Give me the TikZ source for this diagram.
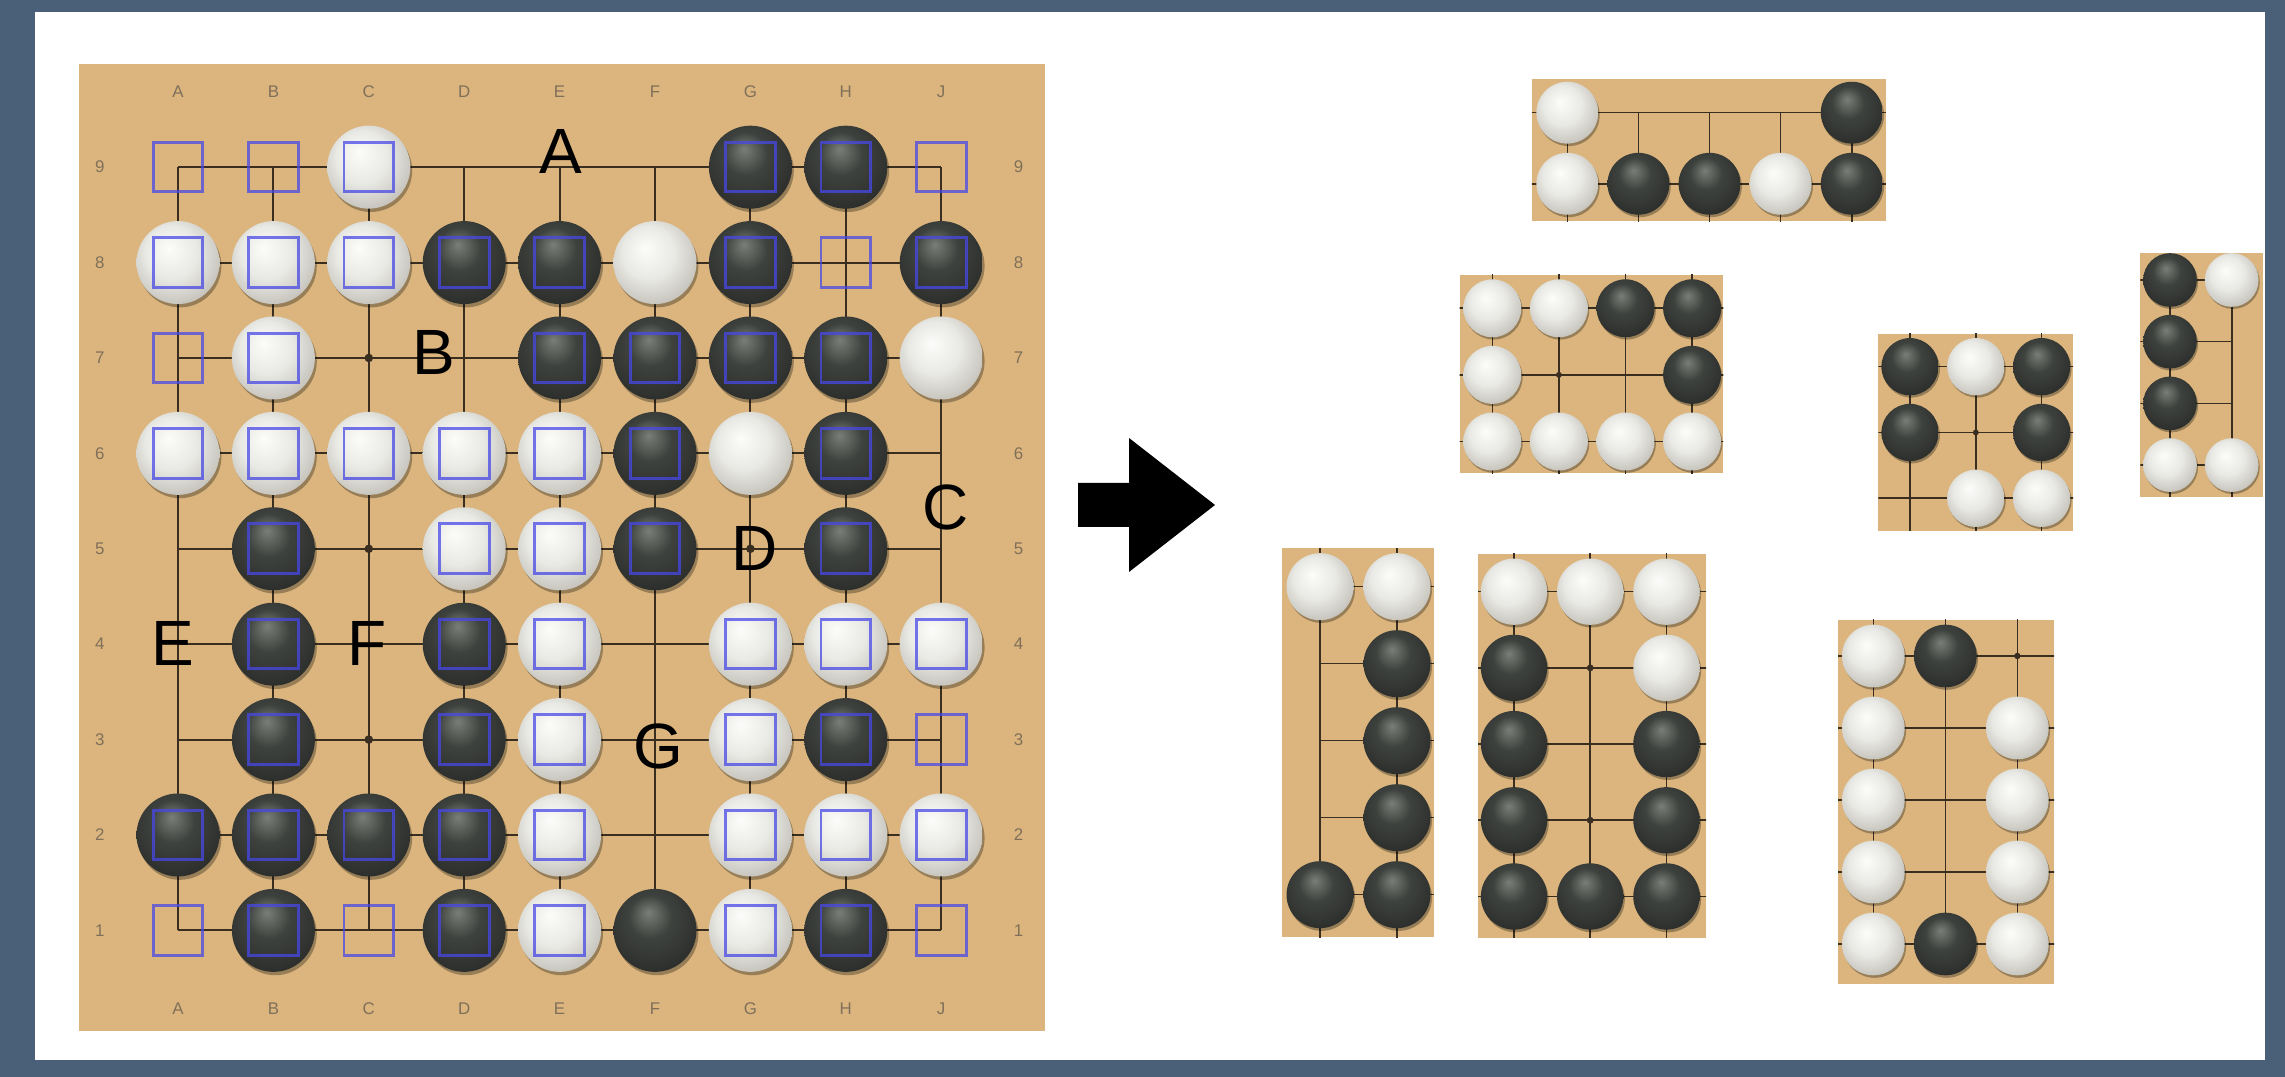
\documentclass[tikz,border=0pt]{standalone}
\usepackage{xcolor}
\usepackage{fontspec}
\setmainfont{Liberation Sans}
\usepackage{tikz}
\usetikzlibrary{positioning}

\definecolor{slate}{RGB}{74,96,121}
\definecolor{wood}{RGB}{219,181,125}
\definecolor{gridline}{RGB}{58,46,32}
\definecolor{coordgray}{RGB}{128,112,90}
\definecolor{markblue}{RGB}{72,72,232}
\definecolor{wlight}{RGB}{252,252,250}
\definecolor{wmid}{RGB}{232,232,228}
\definecolor{wedge}{RGB}{196,194,186}
\definecolor{blight}{RGB}{122,126,120}
\definecolor{bmid}{RGB}{62,66,62}
\definecolor{bedge}{RGB}{44,46,44}

\pgfdeclareradialshading{whitestone}{\pgfpoint{-6bp}{9bp}}{color(0bp)=(wlight); color(16bp)=(wmid); color(30bp)=(wedge); color(50bp)=(wedge)}
\pgfdeclareradialshading{blackstone}{\pgfpoint{-4bp}{11bp}}{color(0bp)=(blight); color(13bp)=(bmid); color(30bp)=(bedge); color(50bp)=(bedge)}

\newcommand{\whitelist}{3/9,1/8,2/8,3/8,6/8,2/7,9/7,1/6,2/6,3/6,4/6,5/6,7/6,4/5,5/5,5/4,7/4,8/4,9/4,5/3,7/3,5/2,7/2,8/2,9/2,5/1,7/1}
\newcommand{\blacklist}{7/9,8/9,4/8,5/8,7/8,9/8,5/7,6/7,7/7,8/7,6/6,8/6,2/5,6/5,8/5,2/4,4/4,2/3,4/3,8/3,1/2,2/2,3/2,4/2,2/1,4/1,6/1,8/1}

\newcommand{\boardcontent}{%
  \foreach \k in {1,...,9} {
    \draw[boardline] (1,\k) -- (9,\k);
    \draw[boardline] (\k,1) -- (\k,9);
  }
  \foreach \cc/\rr in {3/7,3/5,3/3,7/5}
    \fill[gridline] (\cc,\rr) circle (0.045);
  \foreach \cc/\rr in \whitelist {
    \fill[stoneshadow] (\cc+0.02,\rr-0.035) circle (0.435);
    \shade[shading=whitestone] (\cc,\rr) circle (0.435);
  }
  \foreach \cc/\rr in \blacklist {
    \fill[stoneshadow] (\cc+0.02,\rr-0.035) circle (0.435);
    \shade[shading=blackstone] (\cc,\rr) circle (0.435);
  }
}

\newcommand{\boardpiece}[7]{%
  \begin{scope}[shift={(#1,#2)}, scale=#3, line width=0.45pt]
    \fill[wood] (#4,#5) rectangle (#6,#7);
    \clip (#4,#5) rectangle (#6,#7);
    \boardcontent
  \end{scope}}

\begin{document}
\begin{tikzpicture}[x=0.01cm, y=0.01cm,
    boardline/.style={draw=gridline},
    stoneshadow/.style={fill=black, fill opacity=0.3},
    markbox/.style={draw=markblue, draw opacity=0.75, line width=0.85pt},
    coordlabel/.style={text=coordgray, font=\fontsize{4.8}{5}\selectfont, inner sep=0pt},
    biglabel/.style={font=\fontsize{18.2}{20}\selectfont, inner sep=0pt}]
    \useasboundingbox (0,0) rectangle (2285,1077);
    \fill[slate] (0,0) rectangle (2285,1077);
    \fill[white] (35,17) rectangle (2265,1065);

    \fill[wood] (79,46) rectangle (1045,1013);
    \begin{scope}[shift={(82.6,51.2)}, scale=95.4, line width=0.6pt]
        \boardcontent
        \foreach \rr/\cols in {9/{1,2,3,7,8,9}, 8/{1,2,3,4,5,7,8,9}, 7/{1,2,5,6,7,8},
                6/{1,2,3,4,5,6,8}, 5/{2,4,5,6,8}, 4/{2,4,5,7,8,9}, 3/{2,4,5,7,8,9},
                2/{1,2,3,4,5,7,8,9}, 1/{1,2,3,4,5,7,8,9}}
            \foreach \cc in \cols
                \draw[markbox] (\cc-0.26,\rr-0.26) rectangle (\cc+0.26,\rr+0.26);
        \foreach \cc/\lab in {1/A,2/B,3/C,4/D,5/E,6/F,7/G,8/H,9/J} {
            \node[coordlabel] (top-\lab) at (\cc,9.79) {\lab};
            \node[coordlabel] (bot-\lab) at (\cc,0.18) {\lab};
        }
        \foreach \rr in {1,...,9} {
            \node[coordlabel] (left-\rr) at (0.18,\rr) {\rr};
            \node[coordlabel] (right-\rr) at (9.81,\rr) {\rr};
        }
    \end{scope}

    \node[biglabel] (lblA) at (561,925) {A};
    \node[biglabel] (lblB) at (434,724) {B};
    \node[biglabel] (lblC) at (946,570) {C};
    \node[biglabel] (lblD) at (755,528) {D};
    \node[biglabel] (lblE) at (173,433) {E};
    \node[biglabel] (lblF) at (367,433) {F};
    \node[biglabel] (lblG) at (658,331) {G};

    \fill[black] (1078,594) -- (1129,594) -- (1129,639) -- (1215,572)
        -- (1129,505) -- (1129,550) -- (1078,550) -- cycle;

    \boardpiece{1354}{324.4}{71.1}{2.5}{7.47}{7.48}{9.47}
    \boardpiece{1359.1}{235.9}{66.6}{1.51}{5.52}{5.47}{8.5}
    \boardpiece{1515.2}{315.5}{65.8}{5.52}{3.51}{8.48}{6.5}
    \boardpiece{1676.4}{365.1}{61.7}{7.52}{3.49}{9.5}{7.43}
    \boardpiece{1243}{28.3}{77}{0.5}{1.45}{2.48}{6.5}
    \boardpiece{1361.6}{28.1}{76.2}{1.53}{1.46}{4.52}{6.5}
    \boardpiece{1513.3}{61}{72}{4.51}{0.45}{7.51}{5.5}
\end{tikzpicture}
\end{document}
